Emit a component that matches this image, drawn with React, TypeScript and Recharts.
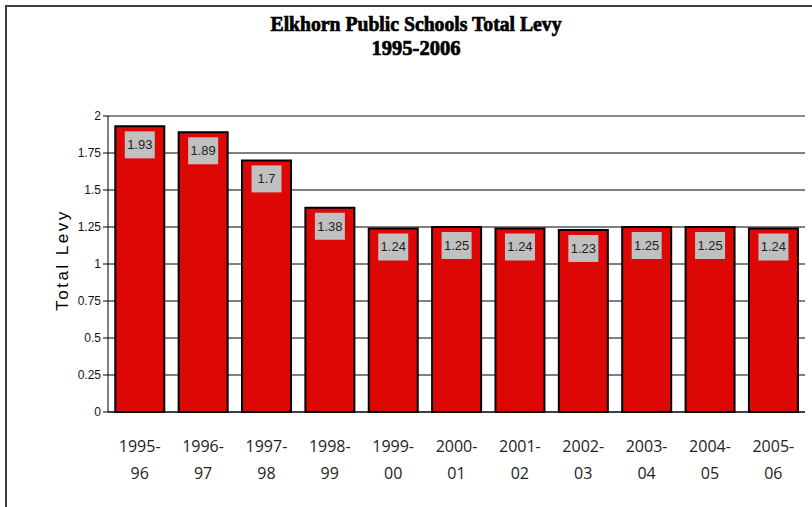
import React from 'react';
import {
  BarChart,
  Bar,
  XAxis,
  YAxis,
  CartesianGrid,
  LabelList,
  ReferenceLine,
} from 'recharts';

const seasons = [
  '1995-96', '1996-97', '1997-98', '1998-99', '1999-00', '2000-01',
  '2001-02', '2002-03', '2003-04', '2004-05', '2005-06',
];
const levy = [1.93, 1.89, 1.7, 1.38, 1.24, 1.25, 1.24, 1.23, 1.25, 1.25, 1.24];
const yTicks = [0, 0.25, 0.5, 0.75, 1, 1.25, 1.5, 1.75, 2];
const edgeTicks = [0, 1, 2, 3, 4, 5, 6, 7, 8, 9, 10, 11];

const data = seasons.map((s, i) => ({ season: s, levy: levy[i], idx: i + 0.5 }));

const SeasonTick = ({ x, y, payload }: any) => {
  const [a, b] = String(payload.value).split('-');
  return (
    <text
      x={x}
      y={y}
      textAnchor="middle"
      fontFamily="'Open Sans', sans-serif"
      fontSize={16}
      fill="#222"
    >
      <tspan x={x} dy={32}>{a}-</tspan>
      <tspan x={x} dy={27}>{b}</tspan>
    </text>
  );
};

const ValueBox = ({ x, y, width, value }: any) => {
  const cx = x + width / 2;
  return (
    <g>
      <rect x={cx - 15} y={y + 5} width={30} height={27} fill="#c0c0c0" />
      <text
        x={cx}
        y={y + 23}
        textAnchor="middle"
        fontFamily="'Liberation Sans', Arial, sans-serif"
        fontSize={13}
        fill="#222"
      >
        {value}
      </text>
    </g>
  );
};

const titleStyle = {
  fontFamily: "'Liberation Serif', serif",
  fontWeight: 'bold' as const,
  fontSize: 21,
};

export default function App() {
  return (
    <div style={{ position: 'absolute', left: 0, top: 0, width: 812, height: 507, background: '#fff' }}>
      <div
        style={{
          position: 'absolute',
          left: 5,
          top: 5,
          width: 900,
          height: 600,
          borderTop: '2px solid #404040',
          borderLeft: '2px solid #404040',
        }}
      />
      <svg style={{ position: 'absolute', left: 0, top: 0 }} width={812} height={507}>
        <text
          x={416}
          y={31}
          textAnchor="middle"
          {...titleStyle}
          stroke="#000"
          strokeWidth={0.7}
          textLength={291}
          lengthAdjust="spacingAndGlyphs"
        >
          Elkhorn Public Schools Total Levy
        </text>
        <text
          x={416}
          y={55}
          textAnchor="middle"
          {...titleStyle}
          stroke="#000"
          strokeWidth={0.7}
          textLength={89}
          lengthAdjust="spacingAndGlyphs"
        >
          1995-2006
        </text>
        <text
          x={0}
          y={0}
          transform="translate(68,260) rotate(-90)"
          textAnchor="middle"
          fontFamily="'Liberation Sans', Arial, sans-serif"
          fontSize={17}
          letterSpacing={2.5}
          fill="#000"
        >
          Total Levy
        </text>
      </svg>
      <div style={{ position: 'absolute', left: 0, top: 0 }}>
        <BarChart
          width={812}
          height={507}
          data={data}
          margin={{ top: 116, right: 7, left: 0, bottom: 35 }}
          barCategoryGap="11.5%"
        >
          <CartesianGrid vertical={false} stroke="#000" strokeWidth={1} />
          <XAxis
            dataKey="season"
            xAxisId="cat"
            tick={<SeasonTick />}
            tickLine={false}
            axisLine={{ stroke: '#000' }}
            interval={0}
            height={60}
          />
          <XAxis
            dataKey="idx"
            xAxisId="edge"
            type="number"
            domain={[0, 11]}
            ticks={edgeTicks}
            tick={false}
            tickSize={6}
            tickLine={{ stroke: '#000' }}
            axisLine={{ stroke: '#000' }}
            height={0}
          />
          <YAxis
            domain={[0, 2]}
            ticks={yTicks}
            width={108}
            tickSize={5}
            tickLine={{ stroke: '#000' }}
            axisLine={{ stroke: '#000' }}
            tick={{ fontFamily: "'Liberation Sans', Arial, sans-serif", fontSize: 12, fill: '#111' }}
            interval={0}
          />
          <YAxis
            yAxisId="r"
            orientation="right"
            domain={[0, 2]}
            width={0}
            tick={false}
            tickLine={false}
            axisLine={{ stroke: '#8c8c8c', strokeWidth: 2 }}
          />
          <ReferenceLine y={2} xAxisId="cat" stroke="#8c8c8c" strokeWidth={2} />
          <Bar
            dataKey="levy"
            xAxisId="cat"
            fill="#dd0806"
            stroke="#000"
            strokeWidth={2}
            isAnimationActive={false}
          >
            <LabelList dataKey="levy" content={<ValueBox />} />
          </Bar>
        </BarChart>
      </div>
    </div>
  );
}
